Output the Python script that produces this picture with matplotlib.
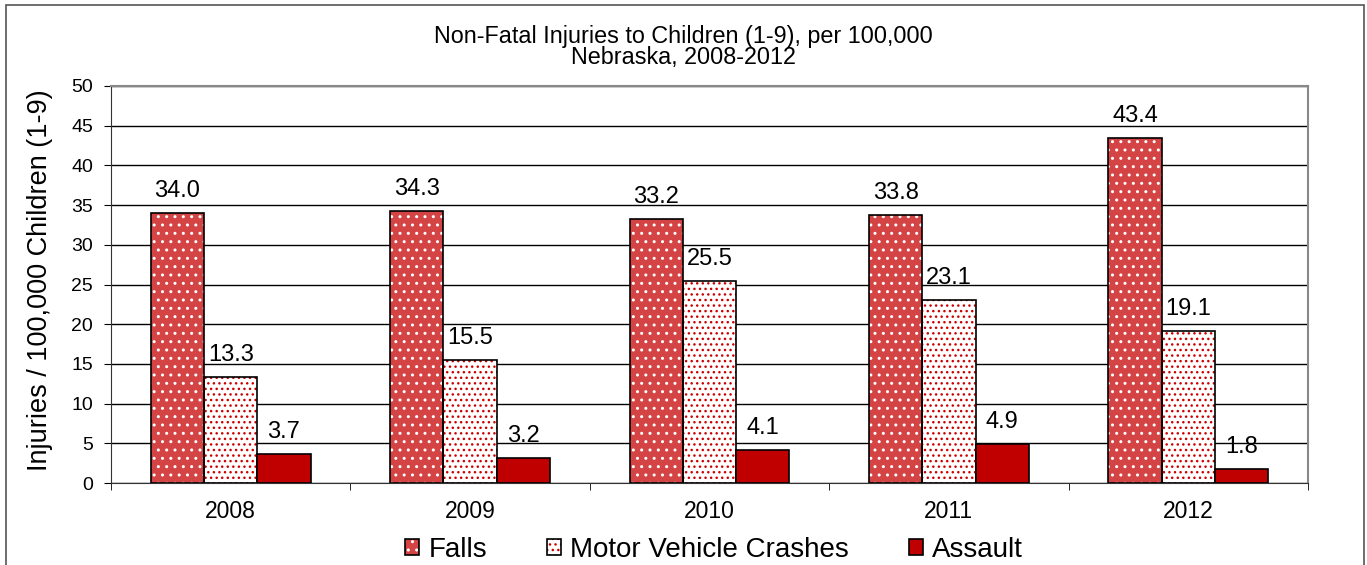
import matplotlib
matplotlib.use("Agg")
import matplotlib.pyplot as plt
import numpy as np
from matplotlib.patches import Rectangle, Patch
from matplotlib.legend_handler import HandlerTuple

plt.rcParams['font.family'] = ['Liberation Sans', 'DejaVu Sans']
plt.rcParams['hatch.linewidth'] = 1.0

years = ['2008', '2009', '2010', '2011', '2012']
falls = [34.0, 34.3, 33.2, 33.8, 43.4]
motor_vehicle = [13.3, 15.5, 25.5, 23.1, 19.1]
assault = [3.7, 3.2, 4.1, 4.9, 1.8]

series = [
    ('Falls', falls, '#D44444', 'white', '..'),
    ('Motor Vehicle Crashes', motor_vehicle, 'white', '#CC0000', '...'),
    ('Assault', assault, '#C00000', None, None),
]

W, H = 1367, 565
fig = plt.figure(figsize=(W / 100, H / 100), dpi=100)
ax = fig.add_axes([111 / W, 1 - 483 / H, 1197 / W, 397 / H])

# outer chart border
fig.patches.append(Rectangle((6 / W, -0.05), 1358 / W, 1.05 - 5 / H,
                             transform=fig.transFigure, fill=False,
                             edgecolor='#555555', lw=1.2, zorder=0))

x = np.arange(len(years))
width = 0.2227
handles, names = [], []
for i, (name, vals, face, hcol, hatch) in enumerate(series):
    pos = x + (i - 1) * width
    if hatch:
        ax.bar(pos, vals, width, color=face, edgecolor=hcol, hatch=hatch,
               linewidth=0, zorder=2)
        ax.bar(pos, vals, width, fill=False, edgecolor='black', linewidth=1.2, zorder=3)
        h = (Patch(facecolor=face, edgecolor=hcol, hatch=hatch, linewidth=0),
             Patch(fill=False, edgecolor='black', linewidth=1.2))
    else:
        ax.bar(pos, vals, width, color=face, edgecolor='black', linewidth=1.2, zorder=3)
        h = (Patch(facecolor=face, edgecolor='black', linewidth=1.2),)
    for p, v in zip(pos, vals):
        ax.annotate(f'{v:.1f}', (p, v), xytext=(0, 11.5), textcoords='offset points',
                    ha='center', va='baseline', fontsize=17)
    handles.append(h)
    names.append(name)

ax.set_xlim(-0.5, len(years) - 0.5)
ax.set_ylim(0, 50)
ax.set_yticks(range(0, 51, 5))
ax.set_xticks(x)
ax.set_xticklabels(years)
ax.set_xticks(np.arange(-0.5, len(years), 1), minor=True)
ax.tick_params(axis='x', which='major', length=0, pad=12, labelsize=16.5)
ax.tick_params(axis='x', which='minor', length=5, direction='out', color='black')
ax.tick_params(axis='y', length=5, direction='out', labelsize=14, pad=8)

ax.yaxis.grid(True, color='black', lw=1)
ax.set_axisbelow(True)
for s in ['top', 'right']:
    ax.spines[s].set_color('#888888')
    ax.spines[s].set_linewidth(1.5)
ax.spines['left'].set_color('#333333')
ax.spines['bottom'].set_color('#333333')

ax.set_ylabel('Injuries / 100,000 Children (1-9)', fontsize=19.5)
ax.yaxis.set_label_coords(-0.0485, 0.511)

fig.text(0.5, 1 - 43 / H, 'Non-Fatal Injuries to Children (1-9), per 100,000',
         ha='center', va='baseline', fontsize=16.8)
fig.text(0.5, 1 - 64 / H, 'Nebraska, 2008-2012',
         ha='center', va='baseline', fontsize=16.8)

fig.legend(handles=handles, labels=names, loc='center', bbox_to_anchor=(714 / W, 0.027),
           ncol=3, frameon=False, fontsize=20, handlelength=0.5, handleheight=0.5,
           handletextpad=0.35, columnspacing=2.15, borderpad=0,
           handler_map={tuple: HandlerTuple(ndivide=1, pad=0)})

fig.savefig('out.png', dpi=100)
